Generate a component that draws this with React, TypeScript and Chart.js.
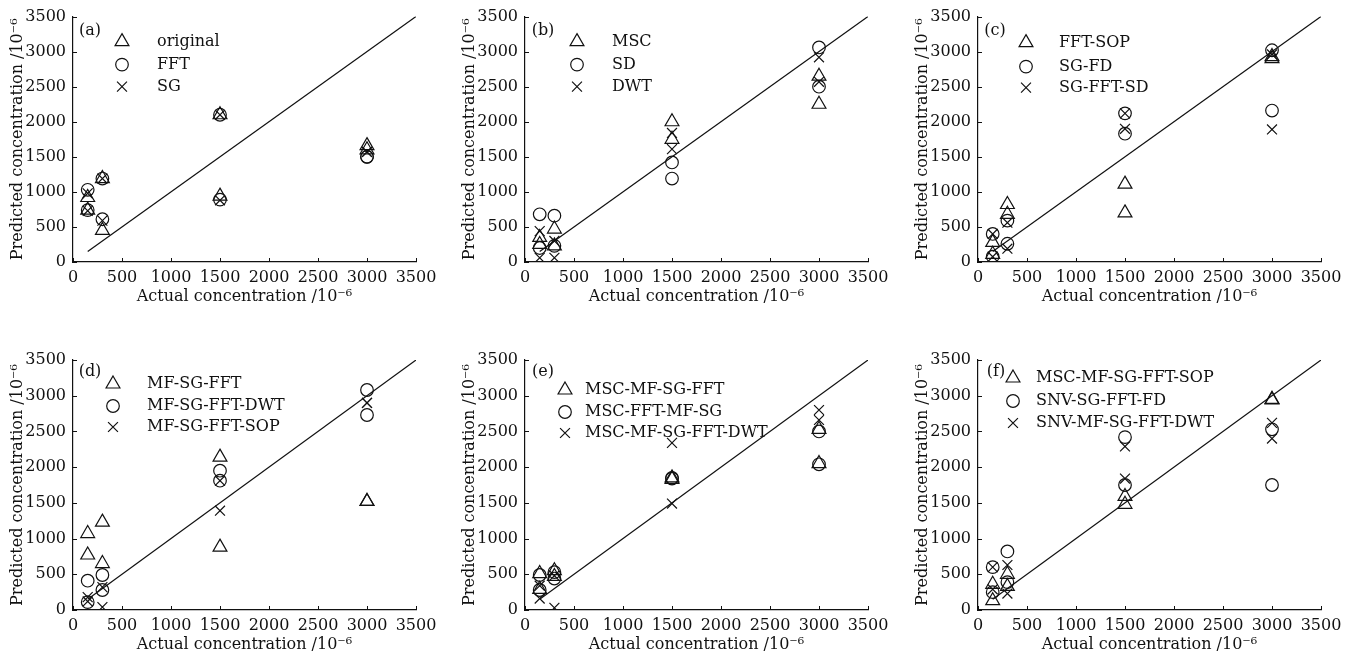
import React, { useEffect, useRef } from 'react';
import { Chart, registerables } from 'chart.js';

Chart.register(...registerables);

// ---------------- data ----------------
const actualX = [150, 150, 300, 300, 1500, 1500, 3000, 3000];
const axisTicks = [0, 500, 1000, 1500, 2000, 2500, 3000, 3500];
const fitLine = [150, 3500];

const panelTags = ['(a)', '(b)', '(c)', '(d)', '(e)', '(f)'];

const aNames = ['original', 'FFT', 'SG'];
const aOriginal = [920, 740, 1190, 450, 2100, 940, 1660, 1600];
const aFFT = [1030, 740, 1190, 610, 2100, 890, 1500, 1500];
const aSG = [980, 730, 1190, 590, 2100, 880, 1570, 1570];

const bNames = ['MSC', 'SD', 'DWT'];
const bMSC = [350, 250, 470, 230, 2000, 1750, 2650, 2250];
const bSD = [680, 200, 660, 230, 1420, 1190, 3060, 2500];
const bDWT = [440, 60, 300, 60, 1840, 1610, 2920, 2570];

const cNames = ['FFT-SOP', 'SG-FD', 'SG-FFT-SD'];
const cFFTSOP = [280, 110, 820, 680, 1110, 700, 2930, 2900];
const cSGFD = [400, 75, 590, 260, 2120, 1830, 3020, 2160];
const cSGFFTSD = [400, 75, 560, 190, 2120, 1900, 2960, 1890];

const dNames = ['MF-SG-FFT', 'MF-SG-FFT-DWT', 'MF-SG-FFT-SOP'];
const dMFSGFFT = [1070, 770, 1230, 650, 2140, 880, 1520, 1520];
const dMFSGFFTDWT = [410, 110, 490, 280, 1950, 1810, 3080, 2730];
const dMFSGFFTSOP = [180, 120, 320, 40, 1810, 1390, 2900, 2900];

const eNames = ['MSC-MF-SG-FFT', 'MSC-FFT-MF-SG', 'MSC-MF-SG-FFT-DWT'];
const eMSCMFSGFFT = [510, 290, 550, 470, 1850, 1830, 2530, 2050];
const eMSCFFTMFSG = [490, 280, 530, 440, 1840, 1850, 2500, 2040];
const eMSCMFSGFFTDWT = [340, 160, 480, 30, 2340, 1490, 2800, 2660];

const fNames = ['MSC-MF-SG-FFT-SOP', 'SNV-SG-FFT-FD', 'SNV-MF-SG-FFT-DWT'];
const fMSCMFSGFFTSOP = [360, 130, 500, 330, 1590, 1480, 2950, 2940];
const fSNVSGFFTFD = [600, 250, 820, 390, 2420, 1750, 2530, 1750];
const fSNVMFSGFFTDWT = [600, 290, 630, 230, 2290, 1840, 2620, 2400];

const xTitle = 'Actual concentration /10⁻⁶';
const yTitle = 'Predicted concentration /10⁻⁶';

// ---------------- styling / layout ----------------
const INK = '#111';
const FONT = 'DejaVu Serif';
const FS = 16;
const markerStyles = ['triangle', 'circle', 'crossRot'];
const markerRadius = [8, 6.3, 7];

const panelSeries = [
  [aOriginal, aFFT, aSG],
  [bMSC, bSD, bDWT],
  [cFFTSOP, cSGFD, cSGFFTSD],
  [dMFSGFFT, dMFSGFFTDWT, dMFSGFFTSOP],
  [eMSCMFSGFFT, eMSCFFTMFSG, eMSCMFSGFFTDWT],
  [fMSCMFSGFFTSOP, fSNVSGFFTFD, fSNVMFSGFFTDWT],
];
const panelNames = [aNames, bNames, cNames, dNames, eNames, fNames];

// layout for each panel: canvas box, and legend offsets relative to chart area
const boxes = [
  { left: 0, top: 0, w: 453, h: 325, padTop: 12, xh: 63, titleBottom: 19 },
  { left: 452, top: 0, w: 453, h: 325, padTop: 12, xh: 63, titleBottom: 19 },
  { left: 905, top: 0, w: 453, h: 325, padTop: 12, xh: 63, titleBottom: 19 },
  { left: 0, top: 325, w: 453, h: 333, padTop: 35, xh: 48, titleBottom: 4 },
  { left: 452, top: 325, w: 453, h: 333, padTop: 35, xh: 48, titleBottom: 4 },
  { left: 905, top: 325, w: 453, h: 333, padTop: 35, xh: 48, titleBottom: 4 },
];
const legendLayout = [
  { tagX: 17, tagY: 14, mx: 49, tx: 84, rows: [25, 48, 70] },
  { tagX: 18, tagY: 14, mx: 52, tx: 87, rows: [25, 48, 70] },
  { tagX: 17, tagY: 14, mx: 48, tx: 81, rows: [26, 50, 71] },
  { tagX: 17, tagY: 12, mx: 40, tx: 74, rows: [24, 46, 67] },
  { tagX: 18, tagY: 12, mx: 40, tx: 60, rows: [30, 52, 73] },
  { tagX: 18, tagY: 12, mx: 35, tx: 58, rows: [18, 41, 63] },
];

function drawMarker(ctx: CanvasRenderingContext2D, style: string, x: number, y: number, r: number) {
  ctx.beginPath();
  if (style === 'triangle') {
    ctx.moveTo(x, y - r);
    ctx.lineTo(x + Math.sin((2 * Math.PI) / 3) * r, y - Math.cos((2 * Math.PI) / 3) * r);
    ctx.lineTo(x + Math.sin((4 * Math.PI) / 3) * r, y - Math.cos((4 * Math.PI) / 3) * r);
    ctx.closePath();
  } else if (style === 'circle') {
    ctx.arc(x, y, r, 0, Math.PI * 2);
  } else {
    const o = Math.cos(Math.PI / 4) * r;
    ctx.moveTo(x - o, y - o);
    ctx.lineTo(x + o, y + o);
    ctx.moveTo(x - o, y + o);
    ctx.lineTo(x + o, y - o);
  }
  ctx.stroke();
}

function Panel({ index }: { index: number }) {
  const ref = useRef<HTMLCanvasElement>(null);
  const box = boxes[index];
  useEffect(() => {
    const series = panelSeries[index];
    const names = panelNames[index];
    const lay = legendLayout[index];
    const tag = panelTags[index];

    const datasets: any[] = series.map((vals, i) => ({
      type: 'scatter',
      label: names[i],
      data: vals.map((v, k) => ({ x: actualX[k], y: v })),
      pointStyle: markerStyles[i],
      pointRadius: markerRadius[i],
      pointHoverRadius: markerRadius[i],
      pointBorderWidth: 1.2,
      pointBorderColor: INK,
      pointBackgroundColor: 'rgba(0,0,0,0)',
      borderColor: INK,
      backgroundColor: 'rgba(0,0,0,0)',
      showLine: false,
    }));
    datasets.push({
      type: 'line',
      label: 'fit',
      data: fitLine.map((v) => ({ x: v, y: v })),
      borderColor: INK,
      borderWidth: 1.2,
      pointRadius: 0,
      fill: false,
    });

    const overlay = {
      id: 'overlay',
      afterDraw(chart: any) {
        const { ctx, chartArea, scales } = chart;
        ctx.save();
        ctx.strokeStyle = INK;
        ctx.lineWidth = 1;
        // inward tick marks
        axisTicks.forEach((t) => {
          const px = Math.round(scales.x.getPixelForValue(t)) + 0.5;
          ctx.beginPath();
          ctx.moveTo(px, chartArea.bottom);
          ctx.lineTo(px, chartArea.bottom - 4);
          ctx.stroke();
          const py = Math.round(scales.y.getPixelForValue(t)) + 0.5;
          ctx.beginPath();
          ctx.moveTo(chartArea.left, py);
          ctx.lineTo(chartArea.left + 4, py);
          ctx.stroke();
        });
        // legend
        ctx.fillStyle = INK;
        ctx.font = `${FS}px "${FONT}"`;
        ctx.textBaseline = 'middle';
        ctx.textAlign = 'center';
        ctx.fillText(tag, chartArea.left + lay.tagX, chartArea.top + lay.tagY);
        ctx.textAlign = 'left';
        ctx.lineWidth = 1.2;
        names.forEach((n, i) => {
          const y = chartArea.top + lay.rows[i];
          drawMarker(ctx, markerStyles[i], chartArea.left + lay.mx, y, markerRadius[i]);
          ctx.fillText(n, chartArea.left + lay.tx, y);
        });
        ctx.restore();
      },
    };

    const tickFont = { family: FONT, size: FS };
    const fmt = (v: any) => String(v);
    const chart = new Chart(ref.current!, {
      type: 'scatter',
      data: { datasets },
      plugins: [overlay],
      options: {
        animation: false,
        responsive: false,
        devicePixelRatio: 1,
        layout: { padding: { left: 0, right: 37, top: box.padTop, bottom: 0 } },
        plugins: { legend: { display: false }, tooltip: { enabled: false } },
        scales: {
          x: {
            type: 'linear',
            min: 0,
            max: 3500,
            afterBuildTicks: (axis: any) => {
              axis.ticks = axisTicks.map((v) => ({ value: v }));
            },
            afterFit: (axis: any) => {
              axis.height = box.xh;
            },
            ticks: { autoSkip: false, maxRotation: 0, padding: 6, color: INK, font: tickFont, callback: fmt },
            grid: { display: false, drawTicks: false },
            border: { display: true, color: INK, width: 1.2 },
            title: {
              display: true,
              text: xTitle,
              color: INK,
              font: tickFont,
              padding: { top: 0, bottom: box.titleBottom },
            },
          },
          y: {
            type: 'linear',
            min: 0,
            max: 3500,
            afterBuildTicks: (axis: any) => {
              axis.ticks = axisTicks.map((v) => ({ value: v }));
            },
            afterFit: (axis: any) => {
              axis.width = 73;
            },
            ticks: { autoSkip: false, padding: 7, color: INK, font: tickFont, callback: fmt },
            grid: { display: false, drawTicks: false },
            border: { display: true, color: INK, width: 1.2 },
            title: {
              display: true,
              text: yTitle,
              color: INK,
              font: tickFont,
              padding: { top: 8, bottom: 0 },
            },
          },
        },
      } as any,
    });
    return () => chart.destroy();
  }, [index]);

  return (
    <div style={{ position: 'absolute', left: box.left, top: box.top, width: box.w, height: box.h }}>
      <canvas ref={ref} width={box.w} height={box.h} style={{ display: 'block' }} />
    </div>
  );
}

export default function App() {
  return (
    <div
      style={{
        position: 'absolute',
        left: 0,
        top: 0,
        width: 1359,
        height: 658,
        background: '#fff',
        overflow: 'hidden',
      }}
    >
      {[0, 1, 2, 3, 4, 5].map((i) => (
        <Panel key={i} index={i} />
      ))}
    </div>
  );
}
